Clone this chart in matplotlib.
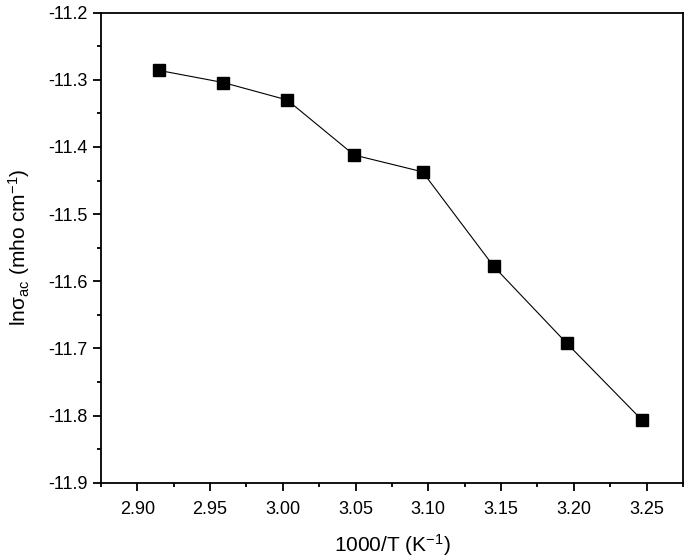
import matplotlib
matplotlib.use("Agg")
import matplotlib.pyplot as plt
from matplotlib.ticker import MultipleLocator, FormatStrFormatter

inv_T = [2.915, 2.959, 3.003, 3.049, 3.096, 3.145, 3.195, 3.247]
ln_sigma = [-11.286, -11.304, -11.330, -11.412, -11.437, -11.578, -11.692, -11.807]

plt.rcParams['font.family'] = ['Liberation Sans', 'DejaVu Sans']
plt.rcParams['mathtext.fontset'] = 'custom'
plt.rcParams['mathtext.rm'] = 'Liberation Sans'
plt.rcParams['mathtext.it'] = 'Liberation Sans'

fig = plt.figure(figsize=(6.85, 5.59), dpi=100)
ax = fig.add_axes([0.1474, 0.1365, 0.997 - 0.1474, 0.9773 - 0.1365])

ax.plot(inv_T, ln_sigma, color='black', linewidth=0.8, marker='s',
        markersize=8.5, markerfacecolor='black', markeredgecolor='black')

ax.set_xlim(2.875, 3.275)
ax.set_ylim(-11.9, -11.2)
ax.xaxis.set_major_locator(MultipleLocator(0.05))
ax.xaxis.set_minor_locator(MultipleLocator(0.025))
ax.yaxis.set_major_locator(MultipleLocator(0.1))
ax.yaxis.set_minor_locator(MultipleLocator(0.05))
ax.xaxis.set_major_formatter(FormatStrFormatter('%.2f'))
ax.yaxis.set_major_formatter(FormatStrFormatter('%.1f'))

for s in ax.spines.values():
    s.set_linewidth(1.3)
ax.tick_params(which='major', direction='out', length=6, width=1.3, labelsize=13)
ax.tick_params(axis='x', which='major', pad=7)
ax.tick_params(which='minor', direction='out', length=3, width=1.3)
ax.tick_params(top=False, right=False, which='both')

ax.set_xlabel('1000/T (K$^{\\mathregular{-1}}$)', fontsize=15, labelpad=10)
ax.set_ylabel(r'ln$\mathregular{\sigma_{ac}}$ (mho cm$^{\mathregular{-1}}$)', fontsize=15, labelpad=12)

fig.savefig('out.png', dpi=100)
